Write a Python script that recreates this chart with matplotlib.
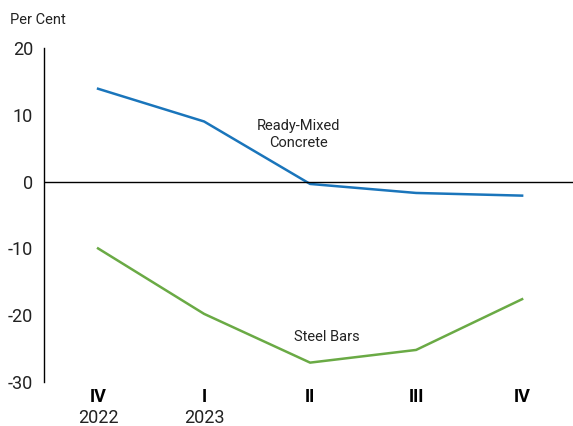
import numpy as np
import matplotlib.pyplot as plt

plt.rcParams['font.family'] = ['Roboto', 'DejaVu Sans']
plt.rcParams['axes.unicode_minus'] = False

quarters = ['IV', 'I', 'II', 'III', 'IV']
years = ['2022', '2023', '', '', '']
concrete = [13.9, 9.0, -0.35, -1.7, -2.1]
steel = [-10.0, -19.8, -27.1, -25.2, -17.6]

x = np.arange(len(quarters))

fig = plt.figure(figsize=(5.73, 4.26), dpi=100)
ax = fig.add_axes([44/573, 1 - 382/426, 1 - 44/573, (382 - 48)/426])

ax.plot(x, concrete, color='#1a75bb', lw=1.8)
ax.plot(x, steel, color='#6aaa45', lw=1.8)
ax.axhline(0, color='black', lw=1)

ax.set_xlim(-0.51, 4.48)
ax.set_ylim(-30, 20)
ax.set_yticks([-30, -20, -10, 0, 10, 20])
ax.tick_params(axis='y', length=0, labelsize=13, pad=8, colors='#222222')
ax.set_xticks([])
for s in ['top', 'right', 'bottom']:
    ax.spines[s].set_visible(False)
ax.spines['left'].set_linewidth(1)

# category labels below the axis
for xi, q, yr in zip(x, quarters, years):
    ax.annotate(q, (xi, 0), xycoords=('data', 'axes fraction'),
                xytext=(0, -11), textcoords='offset points',
                ha='center', va='center', fontsize=13, fontweight='bold')
    if yr:
        ax.annotate(yr, (xi, 0), xycoords=('data', 'axes fraction'),
                    xytext=(0, -26), textcoords='offset points',
                    ha='center', va='center', fontsize=13, color='#222222')

ax.text(1.89, 7.1, 'Ready-Mixed\nConcrete', ha='center', va='center',
        fontsize=10.5, linespacing=1.3, color='#222222')
ax.text(2.16, -23.2, 'Steel Bars', ha='center', va='center',
        fontsize=10.5, color='#222222')

fig.text(10/573, 1 - 20/426, 'Per Cent', ha='left', va='center',
         fontsize=10.5, color='#222222')

fig.savefig('out.png', dpi=100)
